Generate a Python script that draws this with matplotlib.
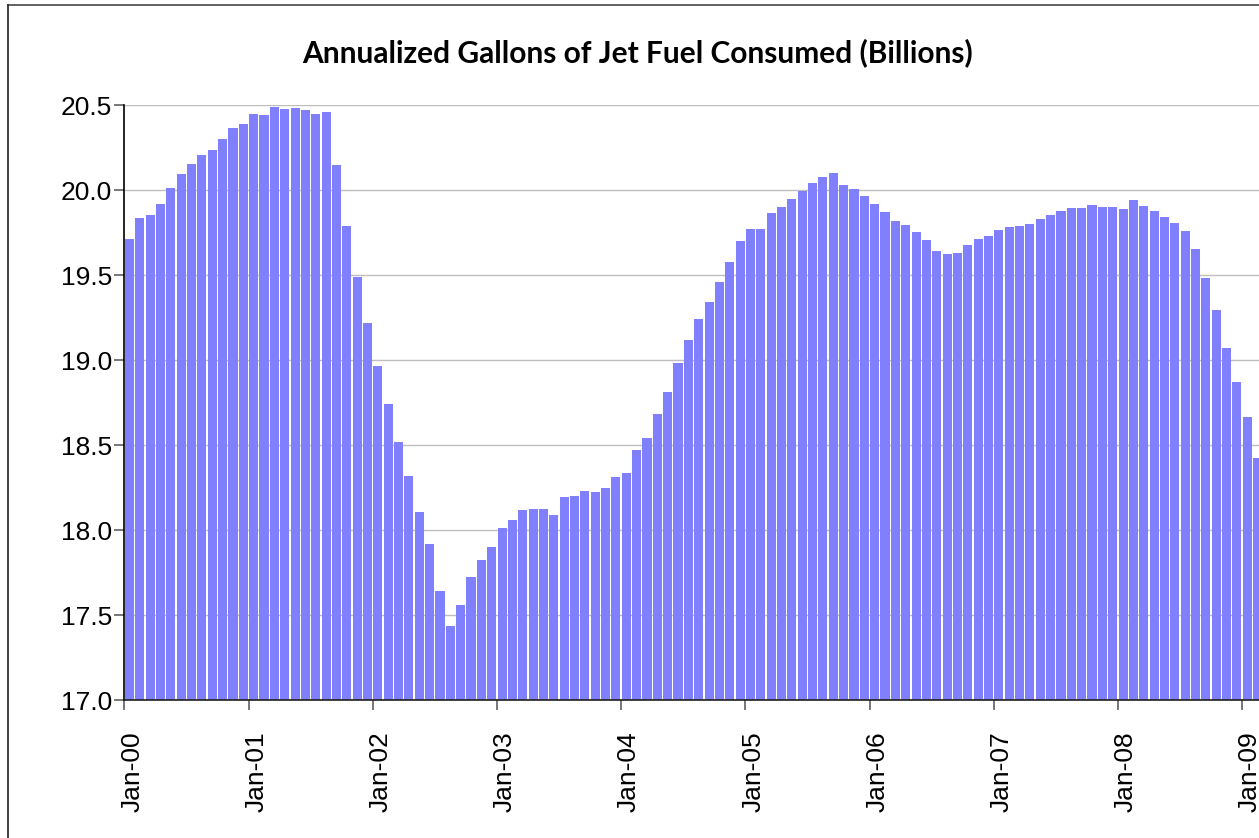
import matplotlib
matplotlib.use("Agg")
import matplotlib.pyplot as plt
from matplotlib.lines import Line2D
from matplotlib.transforms import ScaledTranslation
import numpy as np
import pandas as pd

# annualized jet fuel consumption, billions of gallons, monthly from Jan 2000
gallons = [
    19.71, 19.835, 19.853, 19.916, 20.01, 20.094, 20.153, 20.204, 20.235, 20.302, 20.365, 20.388,
    20.447, 20.439, 20.486, 20.476, 20.48, 20.47, 20.45, 20.457, 20.145, 19.79, 19.49, 19.216,
    18.962, 18.74, 18.517, 18.317, 18.106, 17.916, 17.643, 17.437, 17.558, 17.722, 17.826, 17.90,
    18.013, 18.057, 18.12, 18.125, 18.124, 18.09, 18.194, 18.198, 18.231, 18.225, 18.245, 18.314,
    18.337, 18.468, 18.543, 18.682, 18.814, 18.98, 19.116, 19.243, 19.339, 19.457, 19.575, 19.698,
    19.772, 19.768, 19.862, 19.902, 19.948, 19.995, 20.039, 20.074, 20.098, 20.031, 20.006, 19.965,
    19.92, 19.869, 19.816, 19.792, 19.753, 19.704, 19.643, 19.621, 19.629, 19.678, 19.712, 19.727,
    19.762, 19.781, 19.786, 19.798, 19.827, 19.855, 19.878, 19.896, 19.892, 19.91, 19.898, 19.902,
    19.89, 19.939, 19.904, 19.874, 19.841, 19.804, 19.757, 19.655, 19.484, 19.292, 19.072, 18.869,
    18.665, 18.425,
]
months = pd.date_range("2000-01-01", periods=len(gallons), freq="MS")
yticks = [17.0, 17.5, 18.0, 18.5, 19.0, 19.5, 20.0, 20.5]

W, H = 1259, 838
fig = plt.figure(figsize=(W / 100, H / 100), dpi=100)
fig.patch.set_facecolor("white")

# plot area in pixels: left edge 124, x axis at 700, top gridline at 105
left, bottom, top = 124.3, 700, 105
ax = fig.add_axes([left / W, (H - bottom) / H, (W - left) / W, (bottom - top) / H])

x = np.arange(1, len(gallons) + 1)
ax.bar(x, np.array(gallons) - 17.0, bottom=17.0, width=0.88, color="#8080FF",
       edgecolor="none", zorder=2)

# the series runs on past the right edge, so the last bar is only half shown
month_px = 10.35
ax.set_xlim(0.5, 0.5 + (W - left) / month_px)
ax.set_ylim(17.0, 20.5)

ax.set_axisbelow(True)
ax.yaxis.grid(True, color="#BEBEBE", linewidth=1.0)
ax.set_yticks(yticks)
ax.set_yticklabels([f"{v:.1f}" for v in yticks])

jan = [i for i, m in enumerate(months) if m.month == 1]
ax.set_xticks([x[i] - 0.5 for i in jan])
ax.set_xticklabels([months[i].strftime("%b-%y") for i in jan], rotation=90, va="top")

for side in ["top", "right"]:
    ax.spines[side].set_visible(False)
ax.spines["left"].set_color("black")
ax.spines["bottom"].set_color("#202020")
ax.spines["left"].set_linewidth(1.2)
ax.spines["bottom"].set_linewidth(1.2)

ax.tick_params(axis="y", direction="out", length=7.2, width=1.2, color="#606060",
               pad=1.5, labelsize=19, labelcolor="black")
ax.tick_params(axis="x", direction="out", length=7.2, width=1.2, color="#606060",
               pad=15.5, labelsize=19, labelcolor="black")
for lab in ax.get_xticklabels() + ax.get_yticklabels():
    lab.set_fontfamily(["Liberation Sans", "DejaVu Sans"])
shift = ScaledTranslation(8 / 100, 0, fig.dpi_scale_trans)
for lab in ax.get_xticklabels():
    lab.set_transform(lab.get_transform() + shift)

fig.text(638 / W, 1 - 53 / H, "Annualized Gallons of Jet Fuel Consumed (Billions)",
         ha="center", va="center", fontsize=21.5, fontweight="bold",
         family=["Lato", "Liberation Sans", "DejaVu Sans"])

# chart area border along the top and left
fig.add_artist(Line2D([7.5 / W, 1.0], [1 - 5.5 / H, 1 - 5.5 / H], color="#555555",
                      linewidth=1.3, transform=fig.transFigure))
fig.add_artist(Line2D([7.5 / W, 7.5 / W], [1 - 5.5 / H, 0.0], color="#333333",
                      linewidth=1.3, transform=fig.transFigure))

fig.savefig("out.png", dpi=100)
